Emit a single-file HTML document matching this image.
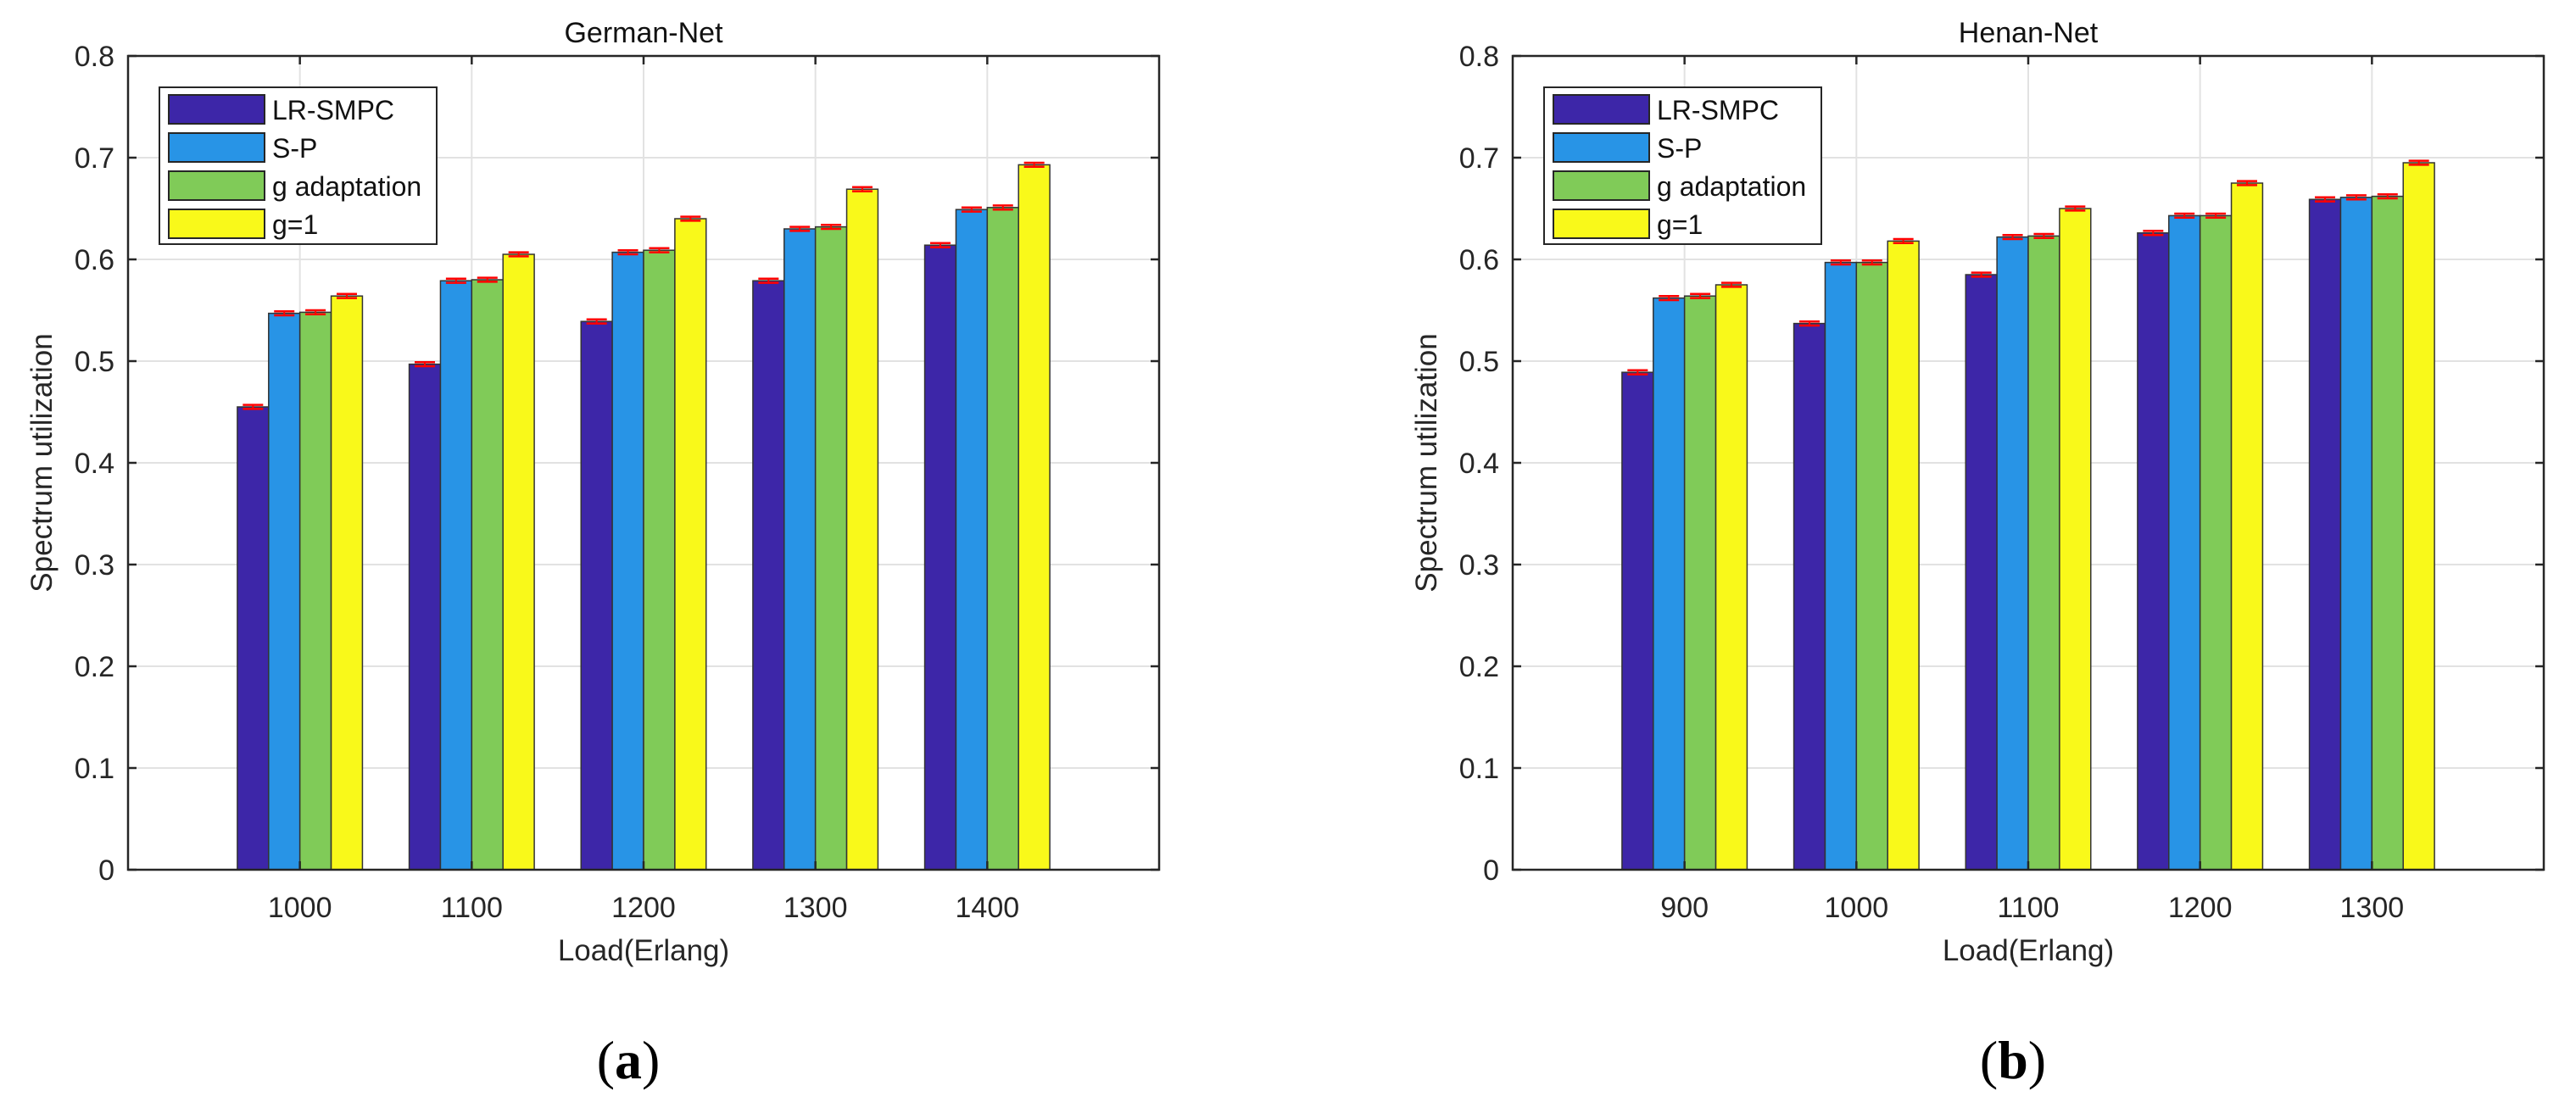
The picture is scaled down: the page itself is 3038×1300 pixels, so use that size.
<!DOCTYPE html>
<html><head><meta charset="utf-8"><style>
html,body{margin:0;padding:0;background:#fff;}
svg{display:block;font-family:"Liberation Sans",Arial,sans-serif;}
</style></head><body>
<svg id="fig" width="3038" height="1300" viewBox="0 0 3038 1300" xmlns="http://www.w3.org/2000/svg"></svg>
<script>
const seriesNames = ["LR-SMPC","S-P","g adaptation","g=1"];
const germanCats = ["1000","1100","1200","1300","1400"];
const germanLR = [0.455,0.497,0.539,0.579,0.614];
const germanSP = [0.547,0.579,0.607,0.630,0.649];
const germanGA = [0.548,0.580,0.609,0.632,0.651];
const germanG1 = [0.564,0.605,0.640,0.669,0.693];
const henanCats = ["900","1000","1100","1200","1300"];
const henanLR = [0.489,0.537,0.585,0.626,0.659];
const henanSP = [0.562,0.597,0.622,0.643,0.661];
const henanGA = [0.564,0.597,0.623,0.643,0.662];
const henanG1 = [0.575,0.618,0.650,0.675,0.695];
const yTicks = ["0","0.1","0.2","0.3","0.4","0.5","0.6","0.7","0.8"];
const errHalf = 0.002;

const colors = ["#3d26a8","#2894e6","#80cb58","#f9f91a"];
const NS = "http://www.w3.org/2000/svg";
const svg = document.getElementById("fig");
function mk(tag, attrs, parent){const e=document.createElementNS(NS,tag);for(const k in attrs)e.setAttribute(k,attrs[k]);(parent||svg).appendChild(e);return e;}

function chart(left, title, cats, series, sub, prefix){
  const top=66, W=1216, H=960, bottom=top+H;
  const g = mk("g",{});
  
  
  const xs = i => left + (i+1)*W/(cats.length+1);
  const ys = v => bottom - v/0.8*H;
  mk("rect",{x:left,y:top,width:W,height:H,fill:"#fff"},g);
  yTicks.forEach((t,i)=>{
    const v=parseFloat(t), y=ys(v);
    if(i>0 && i<yTicks.length-1) mk("line",{x1:left,x2:left+W,y1:y,y2:y,stroke:"#e2e2e2","stroke-width":2},g);
  });
  cats.forEach((c,i)=>{mk("line",{x1:xs(i),x2:xs(i),y1:top,y2:bottom,stroke:"#e2e2e2","stroke-width":2},g);});
  const bw = W/(cats.length+1)*0.182;
  series.forEach((arr,s)=>{
    arr.forEach((v,i)=>{
      const x = xs(i) + (s-2)*bw;
      const r = mk("rect",{x:x,y:ys(v),width:bw,height:ys(0)-ys(v),fill:colors[s],stroke:"#333","stroke-width":1.5},g);
      
      
      const cx=x+bw/2;
      const e = mk("g",{},g);
      
      
      mk("line",{x1:cx-12,x2:cx+12,y1:ys(v+errHalf),y2:ys(v+errHalf),stroke:"#f00","stroke-width":2.5},e);
      mk("line",{x1:cx-12,x2:cx+12,y1:ys(v-errHalf),y2:ys(v-errHalf),stroke:"#f00","stroke-width":2.5},e);
      mk("line",{x1:cx,x2:cx,y1:ys(v+errHalf),y2:ys(v-errHalf),stroke:"#f00","stroke-width":2},e);
    });
  });
  mk("rect",{x:left,y:top,width:W,height:H,fill:"none",stroke:"#262626","stroke-width":2.5},g);
  yTicks.forEach(t=>{
    const y=ys(parseFloat(t));
    mk("line",{x1:left,x2:left+10,y1:y,y2:y,stroke:"#262626","stroke-width":2.5},g);
    mk("line",{x1:left+W-10,x2:left+W,y1:y,y2:y,stroke:"#262626","stroke-width":2.5},g);
    const tx=mk("text",{x:left-16,y:y+12,"text-anchor":"end","font-size":34,fill:"#262626"},g);
    tx.textContent=t;
    
    
  });
  cats.forEach((c,i)=>{
    const x=xs(i);
    mk("line",{x1:x,x2:x,y1:top,y2:top+10,stroke:"#262626","stroke-width":2.5},g);
    mk("line",{x1:x,x2:x,y1:bottom-10,y2:bottom,stroke:"#262626","stroke-width":2.5},g);
    const tx=mk("text",{x:x,y:bottom+56,"text-anchor":"middle","font-size":34,fill:"#262626"},g);
    tx.textContent=c;
    
    
  });
  const cx = left+W/2;
  let t=mk("text",{x:cx,y:50,"text-anchor":"middle","font-size":34,fill:"#111"},g);
  t.textContent=title;
  
  
  t=mk("text",{x:cx,y:1133,"text-anchor":"middle","font-size":35,fill:"#262626"},g);
  t.textContent="Load(Erlang)";
  
  
  t=mk("text",{x:0,y:0,"text-anchor":"middle","font-size":35,fill:"#262626",transform:"translate("+(left-90)+","+((top+bottom)/2)+") rotate(-90)"},g);
  t.textContent="Spectrum utilization";
  
  
  t=mk("text",{x:cx-18,y:1272,"text-anchor":"middle","font-size":64,fill:"#000","font-family":"Liberation Serif, serif"},g);
  t.innerHTML='(<tspan font-weight="bold">'+sub+'</tspan>)';
  
  
  const lg = mk("g",{},g);
  
  
  const lx=left+37, ly=103;
  mk("rect",{x:lx,y:ly,width:327,height:185,fill:"#fff",stroke:"#262626","stroke-width":2},lg);
  seriesNames.forEach((n,s)=>{
    const e=mk("g",{},lg);
    
    
    const y=ly+9+s*45;
    mk("rect",{x:lx+11,y:y,width:113,height:34,fill:colors[s],stroke:"#262626","stroke-width":2},e);
    const tt=mk("text",{x:lx+133,y:y+29,"font-size":32,fill:"#111"},e);
    tt.textContent=n;
  });
}
chart(151,"German-Net",germanCats,[germanLR,germanSP,germanGA,germanG1],"a","german");
chart(1784,"Henan-Net",henanCats,[henanLR,henanSP,henanGA,henanG1],"b","henan");
</script>
</body></html>
